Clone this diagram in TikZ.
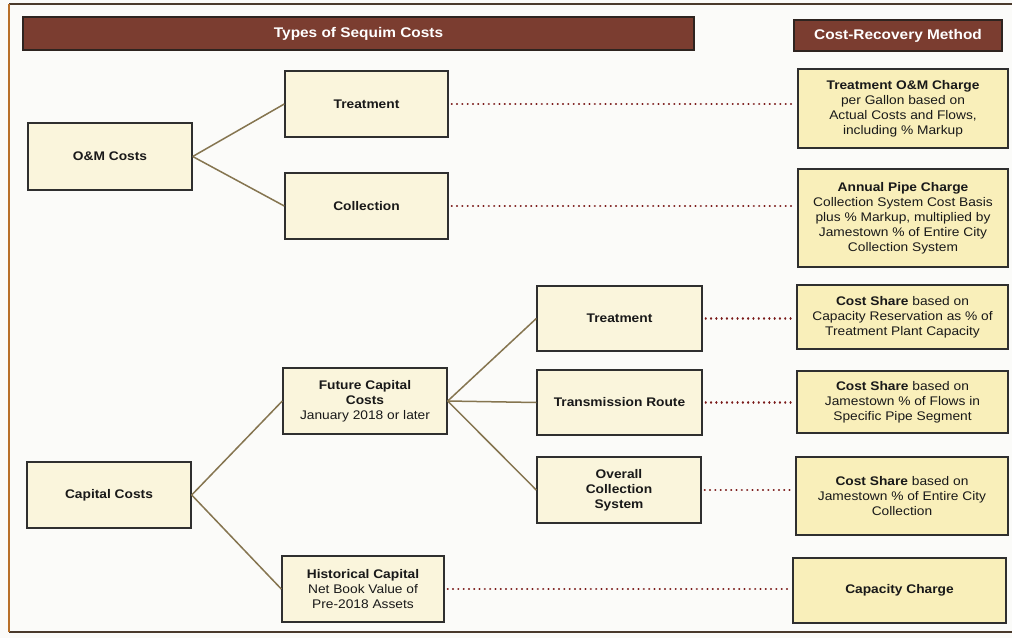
\documentclass[tikz,border=0pt]{standalone}
\usepackage{fontspec}
\setmainfont[FakeStretch=1.1]{Liberation Sans}
\usetikzlibrary{calc}
\definecolor{paper}{HTML}{FBFBF9}
\definecolor{lfill}{HTML}{FAF5DC}
\definecolor{rfill}{HTML}{F9EFBA}
\definecolor{hdr}{HTML}{7B3D30}
\definecolor{hdrline}{HTML}{2E2420}
\definecolor{boxline}{HTML}{2F2F2F}
\definecolor{conn}{HTML}{857550}
\definecolor{dotc}{HTML}{7A1A1A}
\definecolor{frameL}{HTML}{B8702A}
\definecolor{frameT}{HTML}{4A3A2C}
\tikzset{
  every node/.style={font=\fontsize{12.5}{15}\selectfont, text=black!90},
  lbox/.style={draw=boxline, line width=1.4pt, fill=lfill, rectangle, inner sep=0pt, align=center},
  rbox/.style={draw=boxline, line width=1.4pt, fill=rfill, rectangle, inner sep=0pt, align=center},
  hbar/.style={draw=hdrline, line width=1.8pt, fill=hdr, rectangle, inner sep=0pt, text=white, font=\fontsize{14}{16}\selectfont\bfseries},
  solidc/.style={draw=conn, line width=1.5pt},
  dotline/.style={draw=dotc, line width=2.2pt, line cap=round, dash pattern=on 0.1pt off 5.2pt}
}
\begin{document}
\begin{tikzpicture}[x=1pt,y=-1pt]
\useasboundingbox (0,0) rectangle (1012,638);
\fill[paper] (0,0) rectangle (1012,638);
% frame
\draw[frameT, line width=1.8pt] (9,4) -- (1014,4);
\draw[frameT, line width=2pt] (9,632) -- (1014,632);
\draw[frameL, line width=2pt] (9,4) -- (9,632);

% headers
\node[hbar, minimum width=671pt, minimum height=33pt] (h1) at (358.5,33.5) {Types of Sequim Costs};
\node[hbar, minimum width=208pt, minimum height=31pt] (h2) at (898,35.5) {Cost-Recovery Method};

% left column
\node[lbox, minimum width=164pt, minimum height=67pt] (om) at (110,156.5) {\bfseries O\&M Costs};
\node[lbox, minimum width=164pt, minimum height=66pt] (cap) at (109,495) {\bfseries Capital Costs};

% second column
\node[lbox, minimum width=163pt, minimum height=66pt] (tr1) at (366.5,104) {\bfseries Treatment};
\node[lbox, minimum width=163pt, minimum height=66pt] (col) at (366.5,206) {\bfseries Collection};
\node[lbox, minimum width=164pt, minimum height=66pt] (fcc) at (365,401) {\bfseries Future Capital\\\bfseries Costs\\January 2018 or later};
\node[lbox, minimum width=162pt, minimum height=66pt] (hist) at (363,589) {\bfseries Historical Capital\\Net Book Value of\\Pre-2018 Assets};

% third column
\node[lbox, minimum width=165pt, minimum height=65pt] (tr2) at (619.5,318.5) {\bfseries Treatment};
\node[lbox, minimum width=165pt, minimum height=65pt] (trans) at (619.5,402.5) {\bfseries Transmission Route};
\node[lbox, minimum width=164pt, minimum height=66pt] (ocs) at (619,490) {\bfseries Overall\\\bfseries Collection\\\bfseries System};

% right column
\node[rbox, minimum width=210pt, minimum height=79pt] (r1) at (903,108.5) {\bfseries Treatment O\&M Charge\\per Gallon based on\\Actual Costs and Flows,\\including \% Markup};
\node[rbox, minimum width=210pt, minimum height=98pt] (r2) at (903,218) {\bfseries Annual Pipe Charge\\Collection System Cost Basis\\plus \% Markup, multiplied by\\Jamestown \% of Entire City\\Collection System};
\node[rbox, minimum width=211pt, minimum height=64pt] (r3) at (902.5,317) {{\bfseries Cost Share} based on\\Capacity Reservation as \% of\\Treatment Plant Capacity};
\node[rbox, minimum width=211pt, minimum height=62pt] (r4) at (902.5,402) {{\bfseries Cost Share} based on\\Jamestown \% of Flows in\\Specific Pipe Segment};
\node[rbox, minimum width=212pt, minimum height=78pt] (r5) at (902,496) {{\bfseries Cost Share} based on\\Jamestown \% of Entire City\\Collection};
\node[rbox, minimum width=213pt, minimum height=65pt] (r6) at (899.5,590.5) {\bfseries Capacity Charge};

% solid connectors
\draw[solidc] (om.east) -- (tr1.west);
\draw[solidc] (om.east) -- (col.west);
\draw[solidc] (cap.east) -- (fcc.west);
\draw[solidc] (cap.east) -- (hist.west);
\draw[solidc] (fcc.east) -- (tr2.west);
\draw[solidc] (fcc.east) -- (trans.west);
\draw[solidc] (fcc.east) -- (ocs.west);

% dotted connectors
\draw[dotline] ([xshift=3pt]tr1.east) -- ([xshift=-2pt]tr1.east -| r1.west);
\draw[dotline] ([xshift=3pt]col.east) -- ([xshift=-2pt]col.east -| r2.west);
\draw[dotline] ([xshift=3pt]tr2.east) -- ([xshift=-2pt]tr2.east -| r3.west);
\draw[dotline] ([xshift=3pt]trans.east) -- ([xshift=-2pt]trans.east -| r4.west);
\draw[dotline] ([xshift=3pt]ocs.east) -- ([xshift=-2pt]ocs.east -| r5.west);
\draw[dotline] ([xshift=3pt]hist.east) -- ([xshift=-2pt]hist.east -| r6.west);
\end{tikzpicture}
\end{document}
